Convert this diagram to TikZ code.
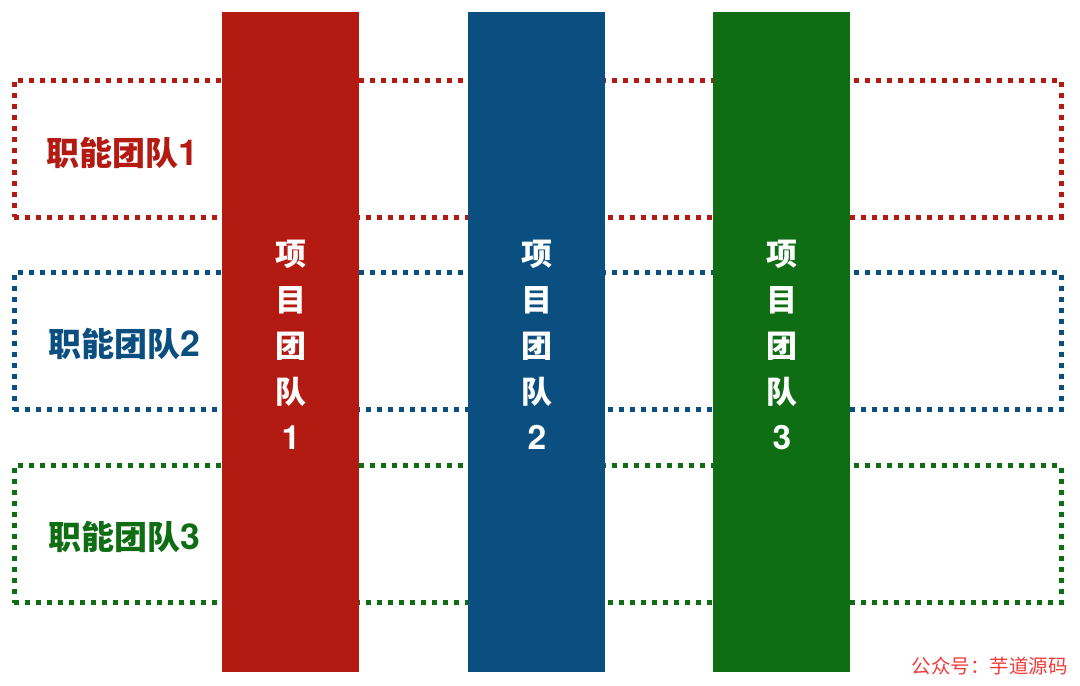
\documentclass[tikz,border=0pt]{standalone}
\usepackage{fontspec}
\newfontfamily\cjk{Noto Sans CJK SC}
\newfontfamily\lat{TeX Gyre Heros}[Scale=1.08]
\definecolor{tred}{HTML}{B21A12}
\definecolor{tblue}{HTML}{0B4F80}
\definecolor{tgreen}{HTML}{0F6E13}
\definecolor{wred}{HTML}{F23A3A}
\tikzset{
  funcbox/.style={draw=#1, line width=5pt, dash pattern=on 5pt off 6pt,
    minimum width=1047pt, minimum height=137pt, inner sep=0pt},
  projcol/.style={fill=#1, minimum width=137pt, minimum height=660pt, inner sep=0pt},
  funclabel/.style={text=#1, anchor=west, inner sep=0pt,
    font=\cjk\bfseries\fontsize{33}{35}\selectfont},
  projlabel/.style={text=white, align=center, inner sep=0pt,
    font=\cjk\bfseries\fontsize{31}{46}\selectfont}
}
\newcommand\num[1]{{\lat\bfseries #1}}
\begin{document}
\begin{tikzpicture}[x=1pt,y=-1pt]
\useasboundingbox (0,0) rectangle (1080,686);
% functional teams
\node [funcbox=tred] (f1) at (537.5,148.5) {};
\node [funcbox=tblue] (f2) at (537.5,341) {};
\node [funcbox=tgreen] (f3) at (537.5,534) {};
\node [funclabel=tred] (l1) at (46,153) {职能团队\num{1}};
\node [funclabel=tblue] (l2) at (48,344) {职能团队\num{2}};
\node [funclabel=tgreen] (l3) at (48,537) {职能团队\num{3}};
% project teams
\node [projcol=tred] (p1) at (290.5,342) {};
\node [projcol=tblue] (p2) at (536.5,342) {};
\node [projcol=tgreen] (p3) at (781.5,342) {};
\node [projlabel] (t1) at (291,345) {项\\目\\团\\队\\\num{1}};
\node [projlabel] (t2) at (537,345) {项\\目\\团\\队\\\num{2}};
\node [projlabel] (t3) at (782,345) {项\\目\\团\\队\\\num{3}};
% watermark
\node [text=wred, anchor=east, inner sep=0pt, font=\cjk\fontsize{19.5}{22}\selectfont]
  (wm) at (1068,666) {公众号：芋道源码};
\end{tikzpicture}
\end{document}
